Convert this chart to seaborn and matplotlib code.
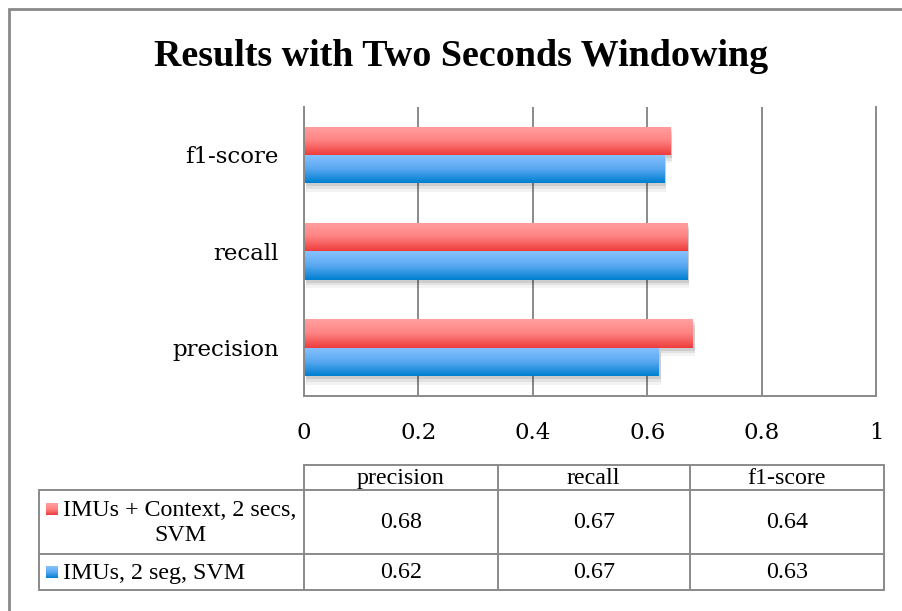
import numpy as np
import pandas as pd
import matplotlib
matplotlib.use("Agg")
import matplotlib.pyplot as plt
import seaborn as sns
from matplotlib import patheffects as pe
from matplotlib.colors import LinearSegmentedColormap

# ---------------- data ----------------
title = "Results with Two Seconds Windowing"
metrics = ["precision", "recall", "f1-score"]
models = ["IMUs + Context, 2 secs, SVM", "IMUs, 2 seg, SVM"]
model_labels = ["IMUs + Context, 2 secs,\nSVM", "IMUs, 2 seg, SVM"]
context_vals = [0.68, 0.67, 0.64]
imu_vals = [0.62, 0.67, 0.63]
xtick_vals = [0, 0.2, 0.4, 0.6, 0.8, 1.0]
xtick_labels = ["0", "0.2", "0.4", "0.6", "0.8", "1"]

df = pd.DataFrame({
    "metric": metrics * 2,
    "value": context_vals + imu_vals,
    "model": [models[0]] * len(metrics) + [models[1]] * len(metrics),
})

# ---------------- styling ----------------
sns.set_theme(style="white")
GRID = "#8a8a8a"
base_colors = ["#f25050", "#2a8ee0"]
grads = [
    LinearSegmentedColormap.from_list("r", ["#ffa0a0", "#ff8282", "#ee3c3c"]),
    LinearSegmentedColormap.from_list("b", ["#88c2ff", "#5aa8f0", "#0080d2"]),
]

W, H = 902, 611
fig = plt.figure(figsize=(W / 100, H / 100), dpi=100)

# main chart axes (pixel geometry)
left, right, top, bottom = 304, 876, 106.75, 396
ax = fig.add_axes([left / W, 1 - bottom / H, (right - left) / W, (bottom - top) / H])

sns.barplot(data=df, y="metric", x="value", hue="model",
            order=metrics[::-1], hue_order=models, orient="h",
            width=0.59, gap=0, palette=base_colors, saturation=1,
            legend=False, ax=ax, edgecolor="none", linewidth=0)

grad_img = [g(np.linspace(0, 1, 64))[:, None, :] for g in grads]

bars = [p for p in ax.patches]
for p in bars:
    fc = p.get_facecolor()
    idx = int(np.argmin([np.sum((np.array(matplotlib.colors.to_rgb(c)) - np.array(fc[:3])) ** 2)
                         for c in base_colors]))
    p.set_path_effects([
        pe.SimplePatchShadow(offset=(1.5, -2), shadow_rgbFace="k", alpha=0.10),
        pe.SimplePatchShadow(offset=(1.5, -4), shadow_rgbFace="k", alpha=0.08),
        pe.SimplePatchShadow(offset=(1.5, -6), shadow_rgbFace="k", alpha=0.05),
        pe.Normal(),
    ])
    x0, y0 = p.get_x(), p.get_y()
    x1, y1 = x0 + p.get_width(), y0 + p.get_height()
    im = ax.imshow(grad_img[idx], extent=(x0, x1, y1, y0), aspect="auto",
                   origin="upper", interpolation="bilinear", zorder=p.get_zorder() + 0.1)
    im.set_clip_path(p)

ax.set_xlim(0, 1)
ax.set_ylim(2.5, -0.5)
ax.set_xticks(xtick_vals)
ax.set_xticklabels(xtick_labels)
ax.set_xlabel("")
ax.set_ylabel("")
ax.set_axisbelow(True)
ax.grid(axis="x", color=GRID, lw=1.4)
ax.grid(axis="y", visible=False)
for s in ["left", "bottom", "right"]:
    ax.spines[s].set_visible(True)
    ax.spines[s].set_color(GRID)
    ax.spines[s].set_linewidth(1.4)
ax.spines["top"].set_visible(False)
ax.tick_params(axis="both", length=0, labelsize=16.5, colors="black")
ax.tick_params(axis="x", pad=19)
ax.tick_params(axis="y", pad=18)
for lab in ax.get_xticklabels() + ax.get_yticklabels():
    lab.set_family("DejaVu Serif")

# ---------------- overlay: border, title, data table ----------------
ov = fig.add_axes([0, 0, 1, 1], facecolor="none")
ov.set_xlim(0, W)
ov.set_ylim(H, 0)
ov.axis("off")
ov.plot([9, 9, W], [H, 9, 9], color=GRID, lw=2, solid_joinstyle="miter")

fig.text(461.5 / W, 1 - 66 / H, title, ha="center", va="baseline",
         family="Liberation Serif", weight="bold", fontsize=27.4, color="black")

col_x = [38.5, 304, 497.5, 690, 884]
row_y = [465, 490, 554, 590]
lw_t = 1.4
ov.plot([col_x[1], col_x[-1]], [row_y[0], row_y[0]], color=GRID, lw=lw_t)
for y in row_y[1:]:
    ov.plot([col_x[0], col_x[-1]], [y, y], color=GRID, lw=lw_t)
ov.plot([col_x[0], col_x[0]], [row_y[1], row_y[-1]], color=GRID, lw=lw_t)
for x in col_x[1:]:
    ov.plot([x, x], [row_y[0], row_y[-1]], color=GRID, lw=lw_t)

tfont = dict(family="Liberation Serif", fontsize=17.3, color="black")
col_centers = [(col_x[i] + col_x[i + 1]) / 2 for i in range(1, 4)]
for cx, m in zip(col_centers, metrics):
    ov.text(cx, (row_y[0] + row_y[1]) / 2 + 1, m, ha="center", va="center", **tfont)

series_vals = [context_vals, imu_vals]
for r, vals in enumerate(series_vals):
    cy = (row_y[r + 1] + row_y[r + 2]) / 2 + 1
    for cx, v in zip(col_centers, vals):
        ov.text(cx, cy, f"{v:.2f}", ha="center", va="center", **tfont)

# row labels with legend keys
ov.text(180, (row_y[1] + row_y[2]) / 2 + 1, model_labels[0], ha="center", va="center",
        multialignment="center", linespacing=1.2, **tfont)
ov.text(63, (row_y[2] + row_y[3]) / 2 + 1, model_labels[1], ha="left", va="center", **tfont)
key_centers = [509, 572]
for k, cy in enumerate(key_centers):
    ov.imshow(grad_img[k], extent=(46, 58, cy + 6, cy - 6), aspect="auto",
              origin="upper", interpolation="bilinear")
ov.set_xlim(0, W)
ov.set_ylim(H, 0)

fig.savefig("out.png", dpi=100)
